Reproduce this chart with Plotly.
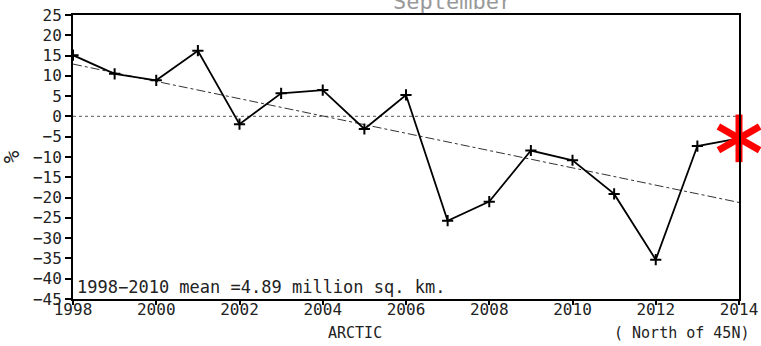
import plotly.graph_objects as go

years = list(range(1998, 2014))
anomaly = [15.1, 10.5, 8.9, 16.2, -1.9, 5.7, 6.5, -3.1, 5.3, -25.7, -21.0, -8.4, -10.8, -19.1, -35.3, -7.3]
latest_year = 2014
latest_value = -5.4
trend_years = [1998, 2014]
trend_values = [12.9, -21.2]
y_ticks = list(range(-45, 30, 5))
x_ticks = list(range(1998, 2016, 2))

MONO = "DejaVu Sans Mono"
fig = go.Figure()

# zero line
fig.add_trace(go.Scatter(x=[1998, 2014], y=[0, 0], mode="lines",
                         line=dict(color="#777777", width=1.2, dash="dot"),
                         hoverinfo="skip", showlegend=False))
# trend line
fig.add_trace(go.Scatter(x=trend_years, y=trend_values, mode="lines",
                         line=dict(color="#333333", width=1, dash="dashdot"),
                         showlegend=False))
# data line with the latest point
fig.add_trace(go.Scatter(x=years + [latest_year], y=anomaly + [latest_value], mode="lines",
                         line=dict(color="black", width=1.8), showlegend=False))
fig.add_trace(go.Scatter(x=years, y=anomaly, mode="markers",
                         marker=dict(symbol="cross-thin-open", size=8, color="black",
                                     line=dict(color="black", width=2)),
                         showlegend=False))
# red asterisk (three rotated bars)
fig.add_trace(go.Scatter(x=[latest_year] * 3, y=[latest_value] * 3, mode="markers",
                         marker=dict(symbol="line-ns-open", size=34, angle=[0, 60, 120],
                                     color="red", line=dict(color="red", width=7)),
                         cliponaxis=False, showlegend=False))

fig.update_layout(
    width=761, height=346,
    margin=dict(l=73, r=22, t=15, b=47),
    plot_bgcolor="white", paper_bgcolor="white",
    font=dict(family=MONO, size=16, color="#222222"),
    xaxis=dict(range=[1998, 2014], tickvals=x_ticks, ticks="outside", ticklen=4,
               tickwidth=1.5, tickcolor="black", showgrid=False, zeroline=False,
               showline=True, linecolor="black", linewidth=2, mirror=True,
               automargin=False, ticklabelstandoff=-9,
               tickfont=dict(family=MONO, size=16)),
    yaxis=dict(range=[-45, 25], tickvals=y_ticks, ticks="outside", ticklen=6,
               tickwidth=1.5, tickcolor="black", showgrid=False, zeroline=False,
               showline=True, linecolor="black", linewidth=2, mirror=True,
               automargin=False, tickfont=dict(family=MONO, size=16),
               title=dict(text="%", font=dict(family=MONO, size=21), standoff=12)),
    annotations=[
        dict(text="1998−2010 mean =4.89 million sq. km.", xref="paper", yref="paper",
             x=0.003, y=0.0, xanchor="left", yanchor="bottom", showarrow=False,
             font=dict(family=MONO, size=17, color="#222222")),
        dict(text="ARCTIC", xref="paper", yref="paper", x=(355 - 73) / 666, y=0,
             yshift=-34, xanchor="center", yanchor="middle", showarrow=False,
             font=dict(family=MONO, size=15, color="#222222")),
        dict(text="( North of 45N)", xref="paper", yref="paper", x=1.0, y=0,
             yshift=-34, xshift=12, xanchor="right", yanchor="middle", showarrow=False,
             font=dict(family=MONO, size=15, color="#222222")),
        dict(text="September", xref="paper", yref="paper", x=(452 - 73) / 666, y=1,
             yshift=-1, xanchor="center", yanchor="bottom", showarrow=False,
             font=dict(family=MONO, size=22, color="#999999")),
    ],
)

fig.write_html("out.html")
